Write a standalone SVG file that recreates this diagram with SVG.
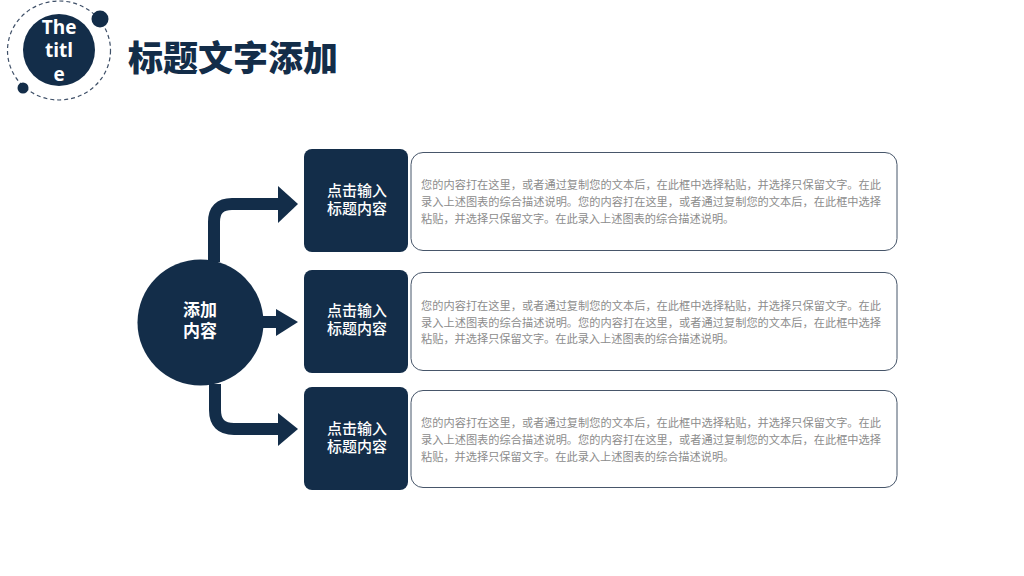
<svg xmlns="http://www.w3.org/2000/svg" width="1024" height="576" viewBox="0 0 1024 576">
<style>
.cjk{font-family:"Noto Sans CJK SC","Liberation Sans",sans-serif}
.dark{fill:#132d49}
.head{fill:#fff;font-size:15px;font-weight:500;text-anchor:middle}
.hub{fill:#fff;font-size:17px;font-weight:700;text-anchor:middle}
.body{fill:#8c8c8c;font-size:11.2px}
.box{fill:#fff;stroke:#47566a;stroke-width:1}
.conn{fill:none;stroke:#132d49;stroke-width:12}
</style>
<rect width="1024" height="576" fill="#fff"/>
<g id="logo">
<ellipse cx="59" cy="50.500" rx="51.500" ry="49.500" fill="none" stroke="#3f5068" stroke-width="1.2" stroke-dasharray="4 3"/>
<circle cx="59" cy="50" r="36" class="dark"/>
<circle cx="100" cy="19" r="8.500" class="dark"/>
<circle cx="23" cy="88" r="5.500" class="dark"/>
<text font-family="'Open Sans','Liberation Sans',sans-serif" font-size="19" font-weight="700" fill="#fff" text-anchor="middle"><tspan x="59" y="34">The</tspan><tspan x="59" y="57">titl</tspan><tspan x="59" y="81">e</tspan></text>
</g>
<text id="title" class="cjk" x="128" y="71" font-size="35" font-weight="900" fill="#132d49">标题文字添加</text>
<g id="connectors">
<path class="conn" d="M214 262V222Q214 204 232 204H280"/>
<path class="dark" d="M278 186L298 204L278 223Z"/>
<path class="conn" d="M262 322H280"/>
<path class="dark" d="M276 309L298 322L276 336Z"/>
<path class="conn" d="M215 384V410Q215 429 234 429H280"/>
<path class="dark" d="M278 413L298 429L278 446Z"/>
</g>
<g id="hub">
<circle cx="200.500" cy="322.500" r="63" class="dark"/>
<text class="cjk hub"><tspan x="200" y="316">添加</tspan><tspan x="200" y="337">内容</tspan></text>
</g>
<g id="head1">
<rect x="304" y="149" width="104" height="103" rx="8" class="dark"/>
<text class="cjk head"><tspan x="357" y="196">点击输入</tspan><tspan x="357" y="214">标题内容</tspan></text>
</g>
<g id="head2">
<rect x="304" y="270" width="104" height="103" rx="8" class="dark"/>
<text class="cjk head"><tspan x="357" y="316">点击输入</tspan><tspan x="357" y="334">标题内容</tspan></text>
</g>
<g id="head3">
<rect x="304" y="387" width="104" height="103" rx="8" class="dark"/>
<text class="cjk head"><tspan x="357" y="434">点击输入</tspan><tspan x="357" y="452">标题内容</tspan></text>
</g>
<g id="desc1">
<rect x="411" y="152.500" width="486" height="98" rx="12" class="box"/>
<text class="cjk body" x="421" y="189" textLength="460">您的内容打在这里，或者通过复制您的文本后，在此框中选择粘贴，并选择只保留文字。在此</text>
<text class="cjk body" x="421" y="206" textLength="460">录入上述图表的综合描述说明。您的内容打在这里，或者通过复制您的文本后，在此框中选择</text>
<text class="cjk body" x="421" y="223">粘贴，并选择只保留文字。在此录入上述图表的综合描述说明。</text>
</g>
<g id="desc2">
<rect x="411" y="272.500" width="486" height="98" rx="12" class="box"/>
<text class="cjk body" x="421" y="310" textLength="460">您的内容打在这里，或者通过复制您的文本后，在此框中选择粘贴，并选择只保留文字。在此</text>
<text class="cjk body" x="421" y="327" textLength="460">录入上述图表的综合描述说明。您的内容打在这里，或者通过复制您的文本后，在此框中选择</text>
<text class="cjk body" x="421" y="343">粘贴，并选择只保留文字。在此录入上述图表的综合描述说明。</text>
</g>
<g id="desc3">
<rect x="411" y="390.500" width="486" height="97" rx="12" class="box"/>
<text class="cjk body" x="421" y="427" textLength="460">您的内容打在这里，或者通过复制您的文本后，在此框中选择粘贴，并选择只保留文字。在此</text>
<text class="cjk body" x="421" y="444" textLength="460">录入上述图表的综合描述说明。您的内容打在这里，或者通过复制您的文本后，在此框中选择</text>
<text class="cjk body" x="421" y="461">粘贴，并选择只保留文字。在此录入上述图表的综合描述说明。</text>
</g>
</svg>
